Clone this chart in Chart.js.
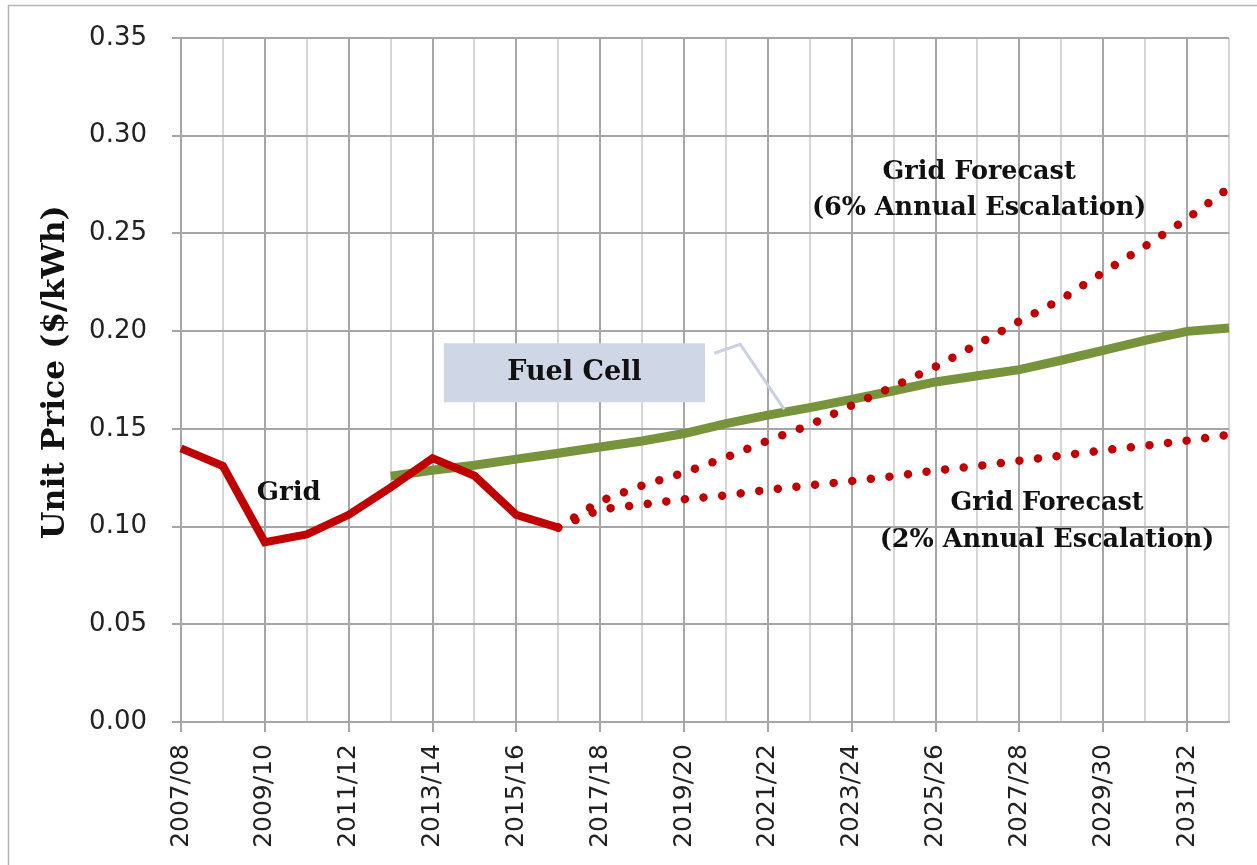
<!DOCTYPE html>
<html>
<head>
<meta charset="utf-8">
<script src="https://cdn.jsdelivr.net/npm/chart.js@4/dist/chart.umd.min.js"></script>
<style>
  html, body { margin: 0; padding: 0; background: #fff; }
  #wrap { width: 1257px; height: 865px; position: relative; }
</style>
</head>
<body>
<div id="wrap"><canvas id="chart" width="1257" height="865"></canvas></div>
<script>
// Financial years on the category axis
const years = [
  '2007/08', '2008/09', '2009/10', '2010/11', '2011/12', '2012/13', '2013/14',
  '2014/15', '2015/16', '2016/17', '2017/18', '2018/19', '2019/20', '2020/21',
  '2021/22', '2022/23', '2023/24', '2024/25', '2025/26', '2026/27', '2027/28',
  '2028/29', '2029/30', '2030/31', '2031/32', '2032/33'
];

// Unit prices in $/kWh
const gridActual = [
  0.140, 0.131, 0.092, 0.096, 0.106, 0.120, 0.135, 0.126, 0.106, 0.0995,
  null, null, null, null, null, null, null, null, null, null, null, null, null, null, null, null
];
const forecast6pct = [
  null, null, null, null, null, null, null, null, null, 0.0995,
  0.113, 0.121, 0.1276, 0.1354, 0.144, 0.152, 0.162, 0.1717, 0.1818, 0.1933,
  0.2051, 0.2163, 0.2301, 0.2435, 0.2575, 0.2733
];
const forecast2pct = [
  null, null, null, null, null, null, null, null, null, 0.0995,
  0.1088, 0.1113, 0.1140, 0.1160, 0.1188, 0.1211, 0.1233, 0.1258, 0.1287, 0.1310,
  0.1337, 0.1363, 0.1390, 0.1414, 0.1440, 0.1470
];
const fuelCell = [
  null, null, null, null, null, 0.1258, 0.1288, 0.1314, 0.1345, 0.1375,
  0.1407, 0.1438, 0.1476, 0.1527, 0.1570, 0.1609, 0.1651, 0.1695, 0.1740, 0.1772,
  0.1803, 0.1851, 0.1902, 0.1953, 0.1999, 0.2016
];

const yTicks = [0, 0.05, 0.10, 0.15, 0.20, 0.25, 0.30, 0.35];

const RED = '#c00000';
const GREEN = '#77933c';
const MAJOR = '#a6a6a6';
const MINOR = '#d6d6d6';
const serif = px => 'bold ' + px + 'px "DejaVu Serif"';

// Text labels, frame and the Fuel Cell call-out
const notesPlugin = {
  id: 'notes',
  beforeDraw(chart) {
    const ctx = chart.ctx;
    ctx.save();
    ctx.fillStyle = '#fff';
    ctx.fillRect(0, 0, chart.width, chart.height);
    ctx.strokeStyle = '#b4b4b4';
    ctx.lineWidth = 1.5;
    ctx.beginPath();
    ctx.moveTo(8.5, chart.height);
    ctx.lineTo(8.5, 5.5);
    ctx.lineTo(chart.width, 5.5);
    ctx.stroke();
    ctx.restore();
  },
  afterDatasetsDraw(chart) {
    const ctx = chart.ctx;
    const xs = chart.scales.x;
    const ys = chart.scales.y;
    const px = i => xs.getPixelForValue(i);
    const py = v => ys.getPixelForValue(v);

    ctx.save();

    // Fuel Cell call-out box and leader line
    ctx.strokeStyle = '#c8d0e2';
    ctx.lineWidth = 3;
    ctx.beginPath();
    ctx.moveTo(px(12.72), py(0.1887));
    ctx.lineTo(px(13.34), py(0.1933));
    ctx.lineTo(px(14.39), py(0.160));
    ctx.stroke();

    const bx0 = px(6.27), bx1 = px(12.5);
    const by0 = py(0.1938), by1 = py(0.1636);
    ctx.fillStyle = '#cfd6e6';
    ctx.fillRect(bx0, by0, bx1 - bx0, by1 - by0);

    ctx.fillStyle = '#111';
    ctx.textAlign = 'center';
    ctx.textBaseline = 'middle';
    ctx.font = serif(27);
    ctx.fillText('Fuel Cell', (bx0 + bx1) / 2, (by0 + by1) / 2);

    ctx.font = serif(26);
    ctx.fillText('Grid', px(2.57), py(0.117));

    ctx.font = serif(25.5);
    ctx.fillText('Grid Forecast', px(19.04), py(0.2812));
    ctx.fillText('(6% Annual Escalation)', px(19.04), py(0.2628));

    ctx.fillText('Grid Forecast', px(20.66), py(0.112));
    ctx.fillText('(2% Annual Escalation)', px(20.66), py(0.093));

    // Y axis title
    ctx.save();
    ctx.translate(56, py(0.179));
    ctx.rotate(-Math.PI / 2);
    ctx.font = serif(31.5);
    ctx.fillText('Unit Price ($/kWh)', 0, 0);
    ctx.restore();

    ctx.restore();
  }
};

new Chart(document.getElementById('chart'), {
  type: 'line',
  data: {
    labels: years,
    datasets: [
      {
        label: 'Grid',
        data: gridActual,
        borderColor: RED,
        borderWidth: 8,
        pointRadius: 0,
        tension: 0
      },
      {
        label: 'Grid Forecast (6% Annual Escalation)',
        data: forecast6pct,
        borderColor: RED,
        borderWidth: 8.5,
        borderDash: [0.01, 18.7],
        borderCapStyle: 'round',
        pointRadius: 0,
        tension: 0
      },
      {
        label: 'Grid Forecast (2% Annual Escalation)',
        data: forecast2pct,
        borderColor: RED,
        borderWidth: 8.5,
        borderDash: [0.01, 18.7],
        borderCapStyle: 'round',
        pointRadius: 0,
        tension: 0
      },
      {
        label: 'Fuel Cell',
        data: fuelCell,
        borderColor: GREEN,
        borderWidth: 9,
        pointRadius: 0,
        tension: 0
      }
    ]
  },
  options: {
    responsive: false,
    animation: false,
    devicePixelRatio: 1,
    layout: { padding: { top: 38, right: 28, left: 0, bottom: 0 } },
    plugins: {
      legend: { display: false },
      tooltip: { enabled: false }
    },
    scales: {
      x: {
        type: 'category',
        offset: false,
        border: { display: true, color: MAJOR, width: 2 },
        grid: {
          color: c => (c.index % 2 === 0 ? MAJOR : MINOR),
          tickColor: c => (c.index % 2 === 0 ? MAJOR : 'rgba(0,0,0,0)'),
          lineWidth: 2,
          tickLength: 10,
          drawTicks: true
        },
        ticks: {
          autoSkip: false,
          minRotation: 90,
          maxRotation: 90,
          padding: 12,
          color: '#222',
          font: { family: '"DejaVu Sans"', size: 25 },
          callback: (v, i) => (i % 2 === 0 ? years[i] : '')
        },
        afterFit: s => {
          s.height = 143;
          s.paddingLeft = 0;
          s.paddingRight = 0;
        }
      },
      y: {
        min: 0,
        max: 0.35,
        border: { display: true, color: MAJOR, width: 2 },
        grid: { color: MAJOR, lineWidth: 2, tickLength: 9 },
        afterBuildTicks: s => { s.ticks = yTicks.map(v => ({ value: v })); },
        ticks: {
          padding: 25,
          color: '#222',
          font: { family: '"DejaVu Sans"', size: 26 },
          callback: v => v.toFixed(2)
        },
        afterFit: s => {
          s.width = 181;
          s.paddingTop = 0;
          s.paddingBottom = 0;
        }
      }
    }
  },
  plugins: [notesPlugin]
});
</script>
</body>
</html>
